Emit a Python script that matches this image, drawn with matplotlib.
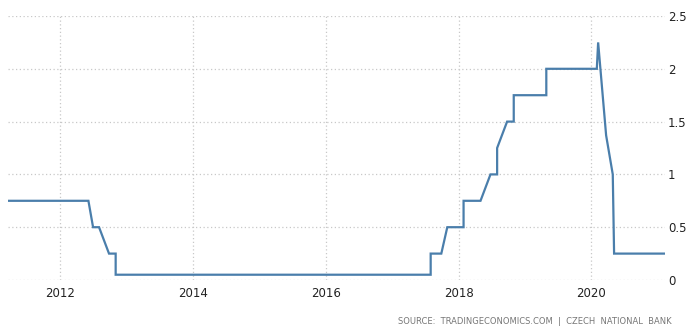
import matplotlib
matplotlib.use("Agg")
import matplotlib.pyplot as plt

# Czech National Bank policy rate (%), vertices (decimal years)
years = [2011.22, 2012.43, 2012.50, 2012.59, 2012.74, 2012.84, 2012.84,
         2017.58, 2017.58, 2017.74, 2017.83, 2018.075, 2018.075, 2018.33,
         2018.48, 2018.58, 2018.58, 2018.73, 2018.83, 2018.83, 2019.32,
         2019.32, 2020.08, 2020.10, 2020.22, 2020.32, 2020.34, 2021.106]
rate = [0.75, 0.75, 0.50, 0.50, 0.25, 0.25, 0.05,
        0.05, 0.25, 0.25, 0.50, 0.50, 0.75, 0.75,
        1.00, 1.00, 1.25, 1.50, 1.50, 1.75, 1.75,
        2.00, 2.00, 2.25, 1.37, 1.00, 0.25, 0.25]

xticks = [2012, 2014, 2016, 2018, 2020]
yticks = [0, 0.5, 1, 1.5, 2, 2.5]
ylabels = ["0", "0.5", "1", "1.5", "2", "2.5"]

W, H = 698, 335
fig = plt.figure(figsize=(W / 100, H / 100), dpi=100)
fig.patch.set_facecolor("white")
ax = fig.add_axes([8 / W, 1 - 280 / H, (665 - 8) / W, (280 - 16) / H])

ax.plot(years, rate, color="#4a7eab", lw=1.6, solid_joinstyle="miter")

ax.set_xlim(years[0], years[-1])
ax.set_ylim(0, 2.5)
ax.set_xticks(xticks)
ax.set_xticklabels([str(y) for y in xticks])
ax.set_yticks(yticks)
ax.set_yticklabels(ylabels)
ax.yaxis.tick_right()
ax.tick_params(axis="both", length=0, labelsize=8.5, labelcolor="#222222")
ax.tick_params(axis="y", pad=2)
ax.tick_params(axis="x", pad=5)
for lbl in ax.get_yticklabels():
    lbl.set_horizontalalignment("left")

ax.grid(True, color="#c8c8c8", linestyle=(0, (1, 2)), lw=0.9)
ax.set_axisbelow(True)
for s in ax.spines.values():
    s.set_visible(False)

fig.text(672 / W, 1 - 322 / H,
         "SOURCE:  TRADINGECONOMICS.COM  |  CZECH  NATIONAL  BANK",
         ha="right", va="center", fontsize=6, color="#777777")

fig.savefig("out.png", dpi=100, facecolor="white")
